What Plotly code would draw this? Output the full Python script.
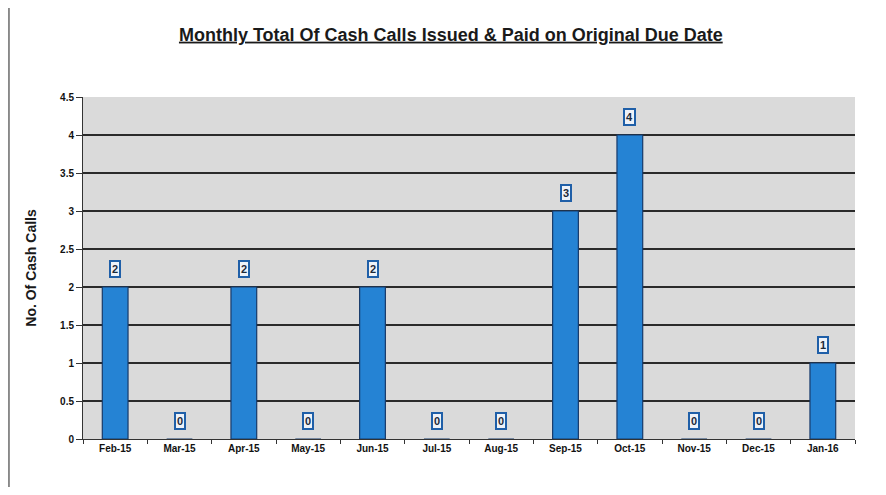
import plotly.graph_objects as go

months = ["Feb-15", "Mar-15", "Apr-15", "May-15", "Jun-15", "Jul-15",
          "Aug-15", "Sep-15", "Oct-15", "Nov-15", "Dec-15", "Jan-16"]
cash_calls = [2, 0, 2, 0, 2, 0, 0, 3, 4, 0, 0, 1]
y_ticks = [0, 0.5, 1, 1.5, 2, 2.5, 3, 3.5, 4, 4.5]
y_tick_labels = ["0", "0.5", "1", "1.5", "2", "2.5", "3", "3.5", "4", "4.5"]

FONT = "Liberation Sans, Arial"

fig = go.Figure()
fig.add_trace(go.Bar(
    x=months, y=cash_calls, width=0.4,
    marker=dict(color="#2583d4", line=dict(color="#173a6a", width=1.2)),
    hoverinfo="x+y",
))

for m, v in zip(months, cash_calls):
    fig.add_annotation(
        x=m, y=v, text="<b>%d</b>" % v, showarrow=False, yanchor="bottom", yshift=9,
        font=dict(family=FONT, size=11, color="#1e2a3a"),
        bgcolor="#eef2f8", bordercolor="#1f5fa8", borderwidth=2, borderpad=1,
    )

fig.update_layout(
    width=870, height=479,
    paper_bgcolor="white", plot_bgcolor="#dadada",
    margin=dict(l=75, r=23, t=89, b=48),
    title=dict(text="<b><u>Monthly Total Of Cash Calls Issued &amp; Paid on Original Due Date</u></b>",
               x=0.509, xanchor="center", y=0.945, yanchor="middle",
               font=dict(family=FONT, size=18, color="#1a1a1a")),
    showlegend=False,
    xaxis=dict(
        tickvals=months, ticktext=["<b>%s</b>" % m for m in months],
        tickfont=dict(family=FONT, size=10, color="#111"),
        showline=True, linecolor="#333", linewidth=1,
        ticks="outside", tickson="boundaries", ticklen=4, tickcolor="#333",
        showgrid=False,
    ),
    yaxis=dict(
        range=[0, 4.5], tickvals=y_ticks, ticktext=["<b>%s</b>" % t for t in y_tick_labels],
        tickfont=dict(family=FONT, size=10, color="#111"),
        showline=True, linecolor="#333", linewidth=1,
        ticks="outside", ticklen=6, tickcolor="#333",
        showgrid=True, gridcolor="#2a2a2a", gridwidth=1.5,
        zeroline=False,
        title=dict(text="<b>No. Of Cash Calls</b>",
                   font=dict(family=FONT, size=14, color="#1a1a1a"),
                   standoff=20),
    ),
)

fig.add_shape(type="line", xref="paper", yref="paper",
              x0=-0.096, x1=-0.096, y0=-0.2, y1=1.3,
              line=dict(color="#888", width=2))

fig.write_html("out.html")
